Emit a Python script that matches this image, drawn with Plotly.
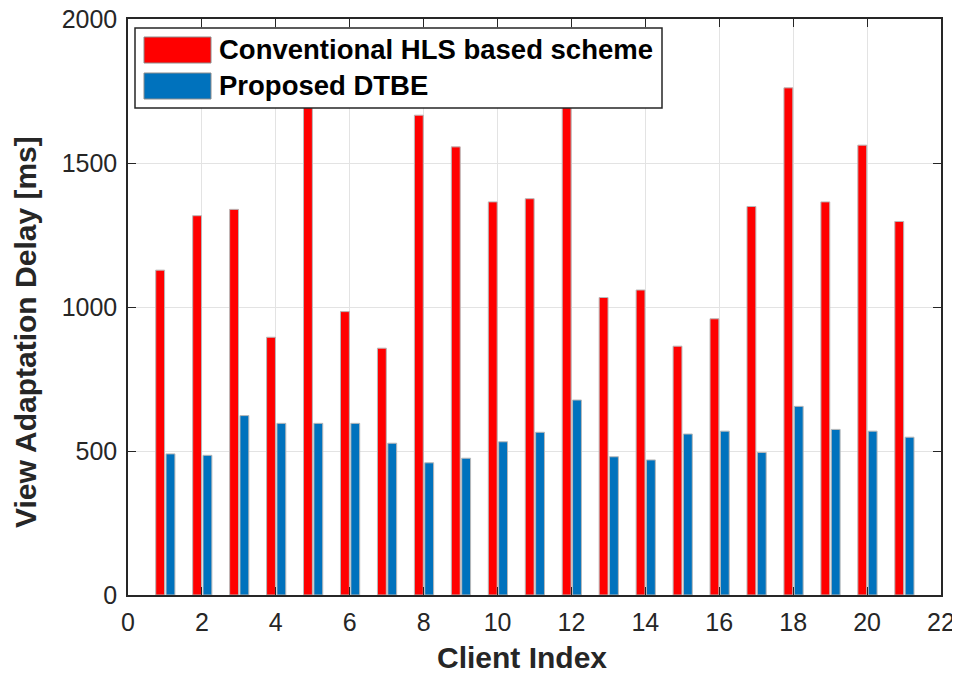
import plotly.graph_objects as go

# Client indices and delays
clients = list(range(1, 22))
hls_delay = [1128, 1317, 1339, 895, 1850, 984, 857, 1666, 1556, 1365, 1376,
             1800, 1033, 1059, 864, 959, 1349, 1761, 1365, 1562, 1297]
dtbe_delay = [490, 485, 623, 596, 596, 596, 527, 459, 475, 532, 565,
              677, 480, 469, 559, 569, 495, 655, 575, 569, 548]
series_names = ["Conventional HLS based scheme", "Proposed DTBE"]
series_colors = ["#ff0000", "#0072bd"]

FONT = "Liberation Sans, Arial, sans-serif"
W, H = 952, 667
PAGE_OFF = 8  # default body margin of the html page
L, R, T, B = 120, 19, 11, 80
AXIS_COLOR = "#262626"

fig = go.Figure()
for name, vals, color, off in zip(series_names, [hls_delay, dtbe_delay],
                                   series_colors, [-0.25, 0.03]):
    fig.add_trace(go.Bar(
        x=clients, y=vals, name=name,
        marker=dict(color=color, line=dict(color="#b8b8b8", width=1)),
        width=0.24, offset=off,
        showlegend=False,
    ))


def px_x(p):
    return (p - PAGE_OFF - L) / (W - L - R)


def px_y(p):
    return 1 - (p - PAGE_OFF - T) / (H - T - B)


# legend drawn as a boxed panel like the MATLAB original
shapes = [dict(type="rect", xref="paper", yref="paper",
               x0=px_x(135), x1=px_x(662), y0=px_y(108), y1=px_y(28),
               fillcolor="white", line=dict(color=AXIS_COLOR, width=1.5),
               layer="above")]
annotations = []
for i, (name, color) in enumerate(zip(series_names, series_colors)):
    top = 37 + i * 36
    shapes.append(dict(type="rect", xref="paper", yref="paper",
                       x0=px_x(144), x1=px_x(211), y0=px_y(top + 26), y1=px_y(top),
                       fillcolor=color, line=dict(color="#8c8c8c", width=1),
                       layer="above"))
    annotations.append(dict(x=px_x(217), y=px_y(top + 13), xref="paper", yref="paper",
                            text=f"<b>{name}</b>", showarrow=False,
                            xanchor="left", yanchor="middle",
                            font=dict(family=FONT, size=27.5, color="black")))

# axis titles, placed where the original has them
annotations.append(dict(x=px_x(522), y=px_y(657), xref="paper", yref="paper",
                        text="<b>Client Index</b>", showarrow=False,
                        xanchor="center", yanchor="middle",
                        font=dict(family=FONT, size=30, color=AXIS_COLOR)))
annotations.append(dict(x=px_x(25), y=px_y(332), xref="paper", yref="paper",
                        text="<b>View Adaptation Delay [ms]</b>", showarrow=False,
                        textangle=-90, xanchor="center", yanchor="middle",
                        font=dict(family=FONT, size=30, color=AXIS_COLOR)))

axis_common = dict(
    showline=True, linecolor=AXIS_COLOR, linewidth=1.5, mirror="ticks",
    ticks="inside", ticklen=8, tickwidth=1.2, tickcolor=AXIS_COLOR,
    showgrid=True, gridcolor="#e3e3e3", gridwidth=1, zeroline=False,
    automargin=False, ticklabeloverflow="allow",
    tickfont=dict(family=FONT, size=25, color=AXIS_COLOR),
)

fig.update_layout(
    width=W, height=H,
    margin=dict(l=L, r=R, t=T, b=B),
    paper_bgcolor="white", plot_bgcolor="white",
    barmode="group",
    shapes=shapes, annotations=annotations,
    xaxis=dict(range=[0, 22], tickmode="linear", tick0=0, dtick=2,
               ticklabelstandoff=4,
               **axis_common),
    yaxis=dict(range=[0, 2000], tickmode="linear", tick0=0, dtick=500,
               ticklabelstandoff=4,
               **axis_common),
)

fig.write_html("out.html")
